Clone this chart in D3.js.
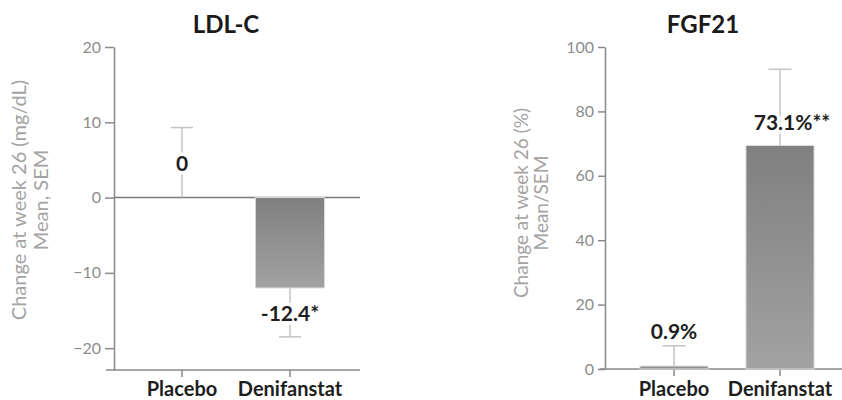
<!DOCTYPE html>
<html>
<head>
<meta charset="utf-8">
<script src="https://cdn.jsdelivr.net/npm/d3@7/dist/d3.min.js"></script>
<style>
  html, body { margin: 0; padding: 0; background: #fff; }
  svg { display: block; font-family: Lato, "Open Sans", sans-serif; }
</style>
</head>
<body>
<svg id="chart" width="842" height="400"></svg>
<script>
// ---- Data ----
const categories = ["Placebo", "Denifanstat"];

const ldlTitle = "LDL-C";
const ldlMeans = [0, -12.0];
const ldlErrors = [9.3, 6.5];
const ldlLabels = ["0", "-12.4*"];
const ldlTicks = [-20, -10, 0, 10, 20];
const ldlDomain = [-22.9, 20];
const ldlYLabel = ["Change at week 26 (mg/dL)", "Mean, SEM"];

const fgfTitle = "FGF21";
const fgfMeans = [0.9, 69.4];
const fgfErrors = [6.3, 23.7];
const fgfLabels = ["0.9%", "73.1%**"];
const fgfTicks = [0, 20, 40, 60, 80, 100];
const fgfDomain = [0, 100];
const fgfYLabel = ["Change at week 26 (%)", "Mean/SEM"];

// ---- Drawing ----
const svg = d3.select("#chart");
const axisColor = "#8a8a8a";
const tickTextColor = "#8c8c8c";
const yLabelColor = "#a3a3a3";
const errColor = "#c4c4c4";
const labelColor = "#1e1e1e";

const defs = svg.append("defs");
const grad = defs.append("linearGradient")
  .attr("id", "barGrad").attr("x1", 0).attr("y1", 0).attr("x2", 0).attr("y2", 1);
grad.append("stop").attr("offset", "0%").attr("stop-color", "#808080");
grad.append("stop").attr("offset", "100%").attr("stop-color", "#a2a2a2");

function panel(cfg) {
  const g = svg.append("g");
  const y = d3.scaleLinear().domain(cfg.domain).range([cfg.yBottom, cfg.yTop]);
  const x = d3.scaleBand().domain(categories).range(cfg.xRange)
    .paddingInner(cfg.padInner).paddingOuter(cfg.padInner / 2);

  // title
  g.append("text").attr("x", cfg.titleX).attr("y", 33)
    .attr("text-anchor", "middle").attr("font-weight", 700)
    .attr("font-size", 24).attr("fill", "#1a1a1a").text(cfg.title);

  // y axis
  const ya = g.append("g").attr("transform", `translate(${cfg.axisX},0)`)
    .call(d3.axisLeft(y).tickValues(cfg.ticks).tickSize(cfg.tickSize).tickSizeOuter(0).tickPadding(4));
  ya.select(".domain").attr("stroke", axisColor).attr("stroke-width", 1.5);
  ya.selectAll(".tick line").attr("stroke", axisColor).attr("stroke-width", 1.5);
  ya.selectAll(".tick text").attr("fill", tickTextColor).attr("font-size", 16)
    .attr("font-family", "Lato, sans-serif");

  // y label
  const yl = g.append("text")
    .attr("transform", `translate(${cfg.yLabelX},${cfg.yLabelY}) rotate(-90)`)
    .attr("text-anchor", "middle").attr("fill", yLabelColor).attr("font-size", cfg.yLabelSize);
  yl.append("tspan").attr("x", 0).attr("dy", 0).text(cfg.yLabel[0]);
  yl.append("tspan").attr("x", 0).attr("dy", cfg.yLabelGap).text(cfg.yLabel[1]);

  // baseline axis (bottom)
  g.append("line").attr("x1", cfg.bottomX1).attr("x2", cfg.bottomX2)
    .attr("y1", y(cfg.domain[0])).attr("y2", y(cfg.domain[0]))
    .attr("stroke", axisColor).attr("stroke-width", 1.5);
  // x ticks
  categories.forEach(c => {
    g.append("line").attr("x1", x(c) + x.bandwidth() / 2).attr("x2", x(c) + x.bandwidth() / 2)
      .attr("y1", y(cfg.domain[0])).attr("y2", y(cfg.domain[0]) + 7)
      .attr("stroke", axisColor).attr("stroke-width", 1.5);
    g.append("text").attr("x", x(c) + x.bandwidth() / 2).attr("y", 396)
      .attr("text-anchor", "middle").attr("font-weight", 700).attr("font-size", 20)
      .attr("fill", labelColor).text(c);
  });

  // zero line (if domain crosses zero)
  if (cfg.domain[0] < 0) {
    g.append("line").attr("x1", cfg.axisX).attr("x2", cfg.bottomX2)
      .attr("y1", y(0)).attr("y2", y(0))
      .attr("stroke", "#7a7a7a").attr("stroke-width", 1.5);
  }

  // bars
  cfg.means.forEach((m, i) => {
    const c = categories[i];
    const cx = x(c) + x.bandwidth() / 2;
    const y0 = y(0), y1 = y(m);
    const e = cfg.errors[i] * (m < 0 ? -1 : 1);
    // error bar
    const ye = y(m + e);
    const capW = cfg.capW;
    g.append("line").attr("x1", cx).attr("x2", cx).attr("y1", y1).attr("y2", ye)
      .attr("stroke", errColor).attr("stroke-width", 1.5);
    g.append("line").attr("x1", cx - capW / 2).attr("x2", cx + capW / 2).attr("y1", ye).attr("y2", ye)
      .attr("stroke", errColor).attr("stroke-width", 1.5);
    if (m !== 0) {
      const h = Math.max(Math.abs(y1 - y0), 2.5);
      g.append("rect").attr("x", x(c)).attr("width", x.bandwidth())
        .attr("y", Math.min(y0, y1) - (Math.abs(y1 - y0) < 2.5 ? 1 : 0)).attr("height", h)
        .attr("fill", "url(#barGrad)").attr("stroke", "#d8d8d8").attr("stroke-width", 1);
    }
    // value label
    const pos = cfg.labelPos(i, cx, y1, ye);
    g.append("text").attr("x", pos[0]).attr("y", pos[1])
      .attr("text-anchor", "middle").attr("dominant-baseline", "central")
      .attr("font-weight", 700).attr("font-size", 21).attr("fill", labelColor)
      .attr("stroke", "#fff").attr("stroke-width", 7).attr("paint-order", "stroke")
      .text(cfg.labels[i]);
  });
}

panel({
  title: ldlTitle, titleX: 226, domain: ldlDomain, ticks: ldlTicks,
  means: ldlMeans, errors: ldlErrors, labels: ldlLabels, yLabel: ldlYLabel,
  yTop: 47, yBottom: 370, axisX: 114, tickSize: 9,
  xRange: [128, 344], padInner: 0.361, capW: 22,
  bottomX1: 106, bottomX2: 360,
  yLabelX: 26, yLabelY: 200, yLabelGap: 22, yLabelSize: 20,
  labelPos: (i, cx, y1, ye) => [cx, (y1 + ye) / 2]
});

panel({
  title: fgfTitle, titleX: 703, domain: fgfDomain, ticks: fgfTicks,
  means: fgfMeans, errors: fgfErrors, labels: fgfLabels, yLabel: fgfYLabel,
  yTop: 47, yBottom: 369, axisX: 605, tickSize: 7,
  xRange: [621, 833], padInner: 0.358, capW: 23,
  bottomX1: 600, bottomX2: 842,
  yLabelX: 528, yLabelY: 203, yLabelGap: 20, yLabelSize: 19,
  labelPos: (i, cx, y1, ye) => i === 0 ? [cx, ye - 15] : [cx + 12, y1 - 24]
});
</script>
</body>
</html>
